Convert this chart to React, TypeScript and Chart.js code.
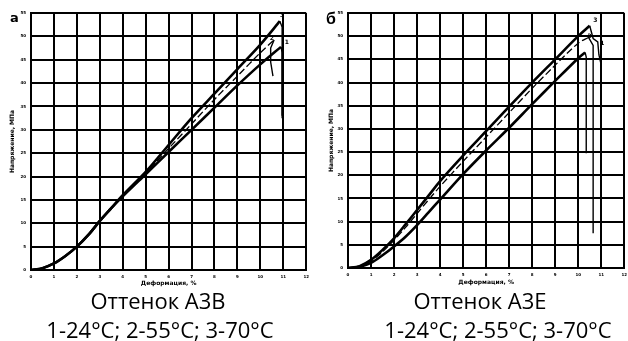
import React, { useEffect, useRef } from "react";
import { Chart, registerables } from "chart.js";
Chart.register(...registerables);

// Axis ranges / ticks
const STRAIN_MIN = 0;
const STRAIN_MAX = 12;
const STRAIN_STEP = 1;
const STRESS_MIN = 0;
const STRESS_MAX = 55;
const STRESS_STEP = 5;
const X_TITLE = "Деформация, %";
const Y_TITLE = "Напряжение, МПа";

// Panel а — Оттенок А3В
const A3B_24_X = [0, 0.5, 1, 1.5, 2, 2.5, 3, 3.5, 4, 5, 6, 7, 8, 9, 10, 10.9];
const A3B_24_Y = [0, 0.4, 1.4, 3, 5, 7.5, 10.5, 13.25, 15.75, 20.5, 25.25, 30, 34.75, 39.5, 44, 47.75];
const A3B_24_DROP_X = [10.9, 10.95, 10.95];
const A3B_24_DROP_Y = [47.75, 46.5, 33];
const A3B_55_X = [0, 0.5, 1, 1.5, 2, 2.5, 3, 3.5, 4, 5, 6, 7, 8, 9, 10, 10.6];
const A3B_55_Y = [0, 0.4, 1.4, 3, 5, 7.5, 10.5, 13.25, 15.9, 20.75, 26, 31.25, 36.5, 41.5, 46.5, 49.25];
const A3B_55_DROP_X = [10.6, 10.45, 10.45, 10.55];
const A3B_55_DROP_Y = [49.25, 47.5, 44.5, 41.5];
const A3B_70_X = [0, 0.5, 1, 1.5, 2, 2.5, 3, 3.5, 4, 5, 6, 7, 8, 9, 10, 10.85];
const A3B_70_Y = [0, 0.4, 1.4, 3, 5, 7.5, 10.5, 13.25, 16, 21, 26.75, 32.5, 37.75, 43, 48.25, 53.25];
const A3B_70_DROP_X = [10.85, 10.95, 10.95];
const A3B_70_DROP_Y = [53.25, 52, 32.5];
const A3B_CURVE_LABELS = ["1", "2", "3"];
const A3B_LABEL_X = [11.15, 10.5, 10.95];
const A3B_LABEL_Y = [48.75, 49.5, 54.5];

// Panel б — Оттенок А3Е
const A3E_24_X = [0, 0.5, 1, 1.5, 2, 2.5, 3, 3.5, 4, 5, 6, 7, 8, 9, 10, 10.3];
const A3E_24_Y = [0, 0.25, 1.1, 2.75, 4.65, 6.75, 9.25, 12, 14.75, 20.25, 25.35, 30.25, 35.35, 40.35, 45.25, 46.5];
const A3E_24_DROP_X = [10.3, 10.35, 10.35];
const A3E_24_DROP_Y = [46.5, 45.5, 24.75];
const A3E_55_X = [0, 0.5, 1, 1.5, 2, 2.5, 3, 3.5, 4, 5, 6, 7, 8, 9, 10, 10.45];
const A3E_55_Y = [0, 0.3, 1.5, 3.5, 6, 8.75, 11.75, 14.7, 17.6, 23, 28.25, 33.5, 38.75, 43.75, 48.5, 49.75];
const A3E_55_DROP_X = [10.45, 10.65, 10.65];
const A3E_55_DROP_Y = [49.75, 48, 7.5];
const A3E_70_X = [0, 0.5, 1, 1.5, 2, 2.5, 3, 3.5, 4, 5, 6, 7, 8, 9, 10, 10.5];
const A3E_70_Y = [0, 0.4, 1.75, 3.9, 6.4, 9.4, 12.5, 15.6, 18.75, 24.25, 29.5, 34.8, 40, 45, 50, 52.25];
const A3E_70_DROP_X = [10.5, 10.65, 10.85, 10.9, 10.98];
const A3E_70_DROP_Y = [52.25, 49.5, 48.75, 46, 44.25];
const A3E_CURVE_LABELS = ["1", "2", "3"];
const A3E_LABEL_X = [11.05, 10.5, 10.75];
const A3E_LABEL_Y = [48.5, 50, 53.5];

const pts = (xs: number[], ys: number[]) => xs.map((x, i) => ({ x, y: ys[i] }));

type PanelProps = {
  left: number;
  width: number;
  height: number;
  pad: { left: number; right: number; top: number; bottom: number };
  yAxisWidth: number;
  xAxisHeight: number;
  yTitlePad: number;
  xTitlePad: number;
  curves: { x: number[]; y: number[]; dx: number[]; dy: number[]; main: boolean }[];
  labels: string[];
  lx: number[];
  ly: number[];
};

function Panel(p: PanelProps) {
  const ref = useRef<HTMLCanvasElement | null>(null);
  useEffect(() => {
    if (!ref.current) return;
    const datasets: any[] = [];
    p.curves.forEach((c) => {
      datasets.push({
        data: pts(c.x, c.y),
        borderColor: "#000",
        borderWidth: c.main ? 2.6 : 1.3,
        borderDash: c.main ? [] : [7, 3],
        pointRadius: 0,
        tension: 0.3,
        fill: false,
      });
      datasets.push({
        data: pts(c.dx, c.dy),
        borderColor: "#000",
        borderWidth: 1.4,
        pointRadius: 0,
        tension: 0,
        fill: false,
      });
    });
    const labelPlugin = {
      id: "curveLabels",
      afterDatasetsDraw(chart: any) {
        const { ctx, scales } = chart;
        ctx.save();
        ctx.fillStyle = "#000";
        ctx.font = "bold 6px 'DejaVu Sans'";
        ctx.textAlign = "center";
        ctx.textBaseline = "middle";
        p.labels.forEach((t, i) => {
          ctx.fillText(t, scales.x.getPixelForValue(p.lx[i]), scales.y.getPixelForValue(p.ly[i]));
        });
        ctx.restore();
      },
    };
    const chart = new Chart(ref.current, {
      type: "line",
      data: { datasets },
      plugins: [labelPlugin],
      options: {
        animation: false,
        responsive: false,
        maintainAspectRatio: false,
        parsing: false as any,
        layout: { padding: p.pad },
        plugins: { legend: { display: false }, tooltip: { enabled: false } },
        scales: {
          x: {
            type: "linear",
            min: STRAIN_MIN,
            max: STRAIN_MAX,
            ticks: {
              stepSize: STRAIN_STEP,
              color: "#000",
              font: { size: 4, weight: "bold", family: "'DejaVu Sans'" },
              padding: 5,
              maxRotation: 0,
            },
            grid: { color: "#000", lineWidth: 2, drawTicks: false },
            border: { color: "#000", width: 2 },
            title: {
              display: true,
              text: X_TITLE,
              color: "#000",
              font: { size: 6, weight: "bold", family: "'DejaVu Sans'" },
              padding: { top: 0, bottom: p.xTitlePad },
            },
            afterFit: (s: any) => {
              s.height = p.xAxisHeight;
            },
          },
          y: {
            type: "linear",
            min: STRESS_MIN,
            max: STRESS_MAX,
            ticks: {
              stepSize: STRESS_STEP,
              color: "#000",
              font: { size: 4, weight: "bold", family: "'DejaVu Sans'" },
              padding: 5,
            },
            grid: { color: "#000", lineWidth: 2, drawTicks: false },
            border: { color: "#000", width: 2 },
            title: {
              display: true,
              text: Y_TITLE,
              color: "#000",
              font: { size: 6, weight: "bold", family: "'DejaVu Sans'" },
              padding: { top: p.yTitlePad, bottom: 0 },
            },
            afterFit: (s: any) => {
              s.width = p.yAxisWidth;
            },
          },
        },
      } as any,
    });
    return () => chart.destroy();
  }, []);
  return (
    <canvas
      ref={ref}
      width={p.width}
      height={p.height}
      style={{ position: "absolute", left: p.left, top: 0, width: p.width, height: p.height }}
    />
  );
}

const textStyle = (center: number, top: number, size: number): React.CSSProperties => ({
  position: "absolute",
  left: center - 160,
  width: 320,
  top,
  textAlign: "center",
  fontFamily: "'Open Sans', sans-serif",
  fontSize: size,
  lineHeight: `${size}px`,
  color: "#000",
  whiteSpace: "nowrap",
});

export default function App() {
  return (
    <div
      style={{
        position: "absolute",
        left: 0,
        top: 0,
        width: 628,
        height: 341,
        overflow: "hidden",
        background: "#fff",
      }}
    >
      <Panel
        left={0}
        width={314}
        height={290}
        pad={{ left: 0, right: 2, top: 13, bottom: 0 }}
        yAxisWidth={31}
        xAxisHeight={20}
        yTitlePad={9}
        xTitlePad={3}
        curves={[
          { x: A3B_24_X, y: A3B_24_Y, dx: A3B_24_DROP_X, dy: A3B_24_DROP_Y, main: true },
          { x: A3B_55_X, y: A3B_55_Y, dx: A3B_55_DROP_X, dy: A3B_55_DROP_Y, main: false },
          { x: A3B_70_X, y: A3B_70_Y, dx: A3B_70_DROP_X, dy: A3B_70_DROP_Y, main: true },
        ]}
        labels={A3B_CURVE_LABELS}
        lx={A3B_LABEL_X}
        ly={A3B_LABEL_Y}
      />
      <Panel
        left={314}
        width={318}
        height={290}
        pad={{ left: 0, right: 4, top: 13, bottom: 0 }}
        yAxisWidth={34}
        xAxisHeight={22}
        yTitlePad={14}
        xTitlePad={4}
        curves={[
          { x: A3E_24_X, y: A3E_24_Y, dx: A3E_24_DROP_X, dy: A3E_24_DROP_Y, main: true },
          { x: A3E_55_X, y: A3E_55_Y, dx: A3E_55_DROP_X, dy: A3E_55_DROP_Y, main: false },
          { x: A3E_70_X, y: A3E_70_Y, dx: A3E_70_DROP_X, dy: A3E_70_DROP_Y, main: true },
        ]}
        labels={A3E_CURVE_LABELS}
        lx={A3E_LABEL_X}
        ly={A3E_LABEL_Y}
      />
      <div style={{ position: "absolute", left: 10, top: 11, fontFamily: "'DejaVu Sans'", fontWeight: "bold", fontSize: 13, lineHeight: "13px" }}>а</div>
      <div style={{ position: "absolute", left: 326, top: 11, fontFamily: "'Liberation Sans'", fontWeight: "bold", fontSize: 16, lineHeight: "16px" }}>б</div>
      <div style={textStyle(158, 289, 22)}>Оттенок А3В</div>
      <div style={textStyle(160, 318, 22)}>1-24°C; 2-55°C; 3-70°C</div>
      <div style={textStyle(480, 289, 22)}>Оттенок А3Е</div>
      <div style={textStyle(498, 318, 22)}>1-24°C; 2-55°C; 3-70°C</div>
    </div>
  );
}
